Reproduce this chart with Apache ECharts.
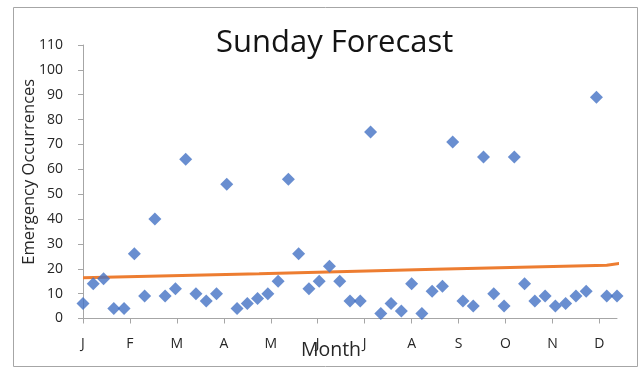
<!DOCTYPE html>
<html>
<head>
<meta charset="utf-8">
<title>Sunday Forecast</title>
<script src="https://cdn.jsdelivr.net/npm/echarts@6/dist/echarts.min.js"></script>
<style>
  html, body { margin: 0; padding: 0; background: #ffffff; }
  #chart { width: 642px; height: 368px; }
</style>
</head>
<body>
<div id="chart"></div>
<script>
// Month initials shown under the x axis (one tick every 32 days)
const monthLabels = ['J', 'F', 'M', 'A', 'M', 'J', 'J', 'A', 'S', 'O', 'N', 'D'];
const monthTickStep = 32;

// Emergency occurrences recorded on each Sunday of the year (week 1 .. 53)
const sundayCounts = [
  6, 14, 16, 4, 4, 26, 9, 40, 9, 12, 64, 10, 7, 10, 54, 4, 6, 8, 10, 15,
  56, 26, 12, 15, 21, 15, 7, 7, 75, 2, 6, 3, 14, 2, 11, 13, 71, 7, 5, 65,
  10, 5, 65, 14, 7, 9, 5, 6, 9, 11, 89, 9, 9
];

// Forecast trend: [day of year, occurrences]
const forecastDays = [0, 120, 240, 357, 368];
const forecastValues = [16.4, 18.0, 19.8, 21.4, 22.3];

// Sundays fall every 7 days starting at day 0
const sundayPoints = sundayCounts.map((v, i) => [i * 7, v]);
const forecastPoints = forecastDays.map((d, i) => [d, forecastValues[i]]);
const monthTicks = monthLabels.map((_, i) => i * monthTickStep);

const FONT = '"Open Sans", "Noto Sans", sans-serif';
const AXIS_GREY = '#a6a6a6';
const TEXT = '#262626';

const chart = echarts.init(document.getElementById('chart'), null, { renderer: 'canvas' });

chart.setOption({
  animation: false,
  backgroundColor: '#ffffff',
  title: {
    text: 'Sunday Forecast',
    left: 216,
    top: 28,
    padding: 0,
    textStyle: { fontFamily: FONT, fontSize: 31, fontWeight: 'normal', color: '#141414' }
  },
  graphic: [{
    type: 'rect',
    shape: { x: 13.5, y: 7.5, width: 624, height: 359 },
    style: { fill: 'none', stroke: '#a6a6a6', lineWidth: 1 },
    silent: true
  }],
  grid: { left: 83, right: 25, top: 45, bottom: 49.5, containLabel: false, outerBoundsMode: 'none' },
  xAxis: {
    type: 'value',
    min: 0,
    max: 364,
    name: 'Month',
    nameLocation: 'middle',
    nameGap: 22,
    nameMoveOverlap: false,
    nameTextStyle: { fontFamily: FONT, fontSize: 19.5, color: TEXT, padding: [0, 38, 0, 0] },
    splitLine: { show: false },
    axisLine: { show: true, onZero: false, lineStyle: { color: AXIS_GREY, width: 1 } },
    axisTick: { show: true, inside: false, length: 5, customValues: monthTicks, lineStyle: { color: AXIS_GREY } },
    axisLabel: {
      customValues: monthTicks,
      margin: 19,
      fontFamily: FONT,
      fontSize: 14,
      color: TEXT,
      formatter: v => monthLabels[Math.round(v / monthTickStep)] || ''
    }
  },
  yAxis: {
    type: 'value',
    min: 0,
    max: 110,
    interval: 10,
    name: 'Emergency Occurrences',
    nameLocation: 'middle',
    nameGap: 45,
    nameMoveOverlap: false,
    nameTextStyle: { fontFamily: FONT, fontSize: 16.5, color: TEXT, padding: [0, 0, 0, 20] },
    splitLine: { show: false },
    axisLine: { show: true, lineStyle: { color: AXIS_GREY, width: 1 } },
    axisTick: { show: true, inside: false, length: 5, lineStyle: { color: AXIS_GREY } },
    axisLabel: { margin: 20, fontFamily: FONT, fontSize: 14, color: TEXT }
  },
  series: [
    {
      name: 'Forecast',
      type: 'line',
      data: forecastPoints,
      clip: false,
      symbol: 'none',
      lineStyle: { color: '#ED7D31', width: 3 },
      z: 2
    },
    {
      name: 'Sunday',
      type: 'scatter',
      data: sundayPoints,
      symbol: 'diamond',
      symbolSize: 13,
      itemStyle: { color: '#4472C4' },
      z: 3
    }
  ]
});
</script>
</body>
</html>
